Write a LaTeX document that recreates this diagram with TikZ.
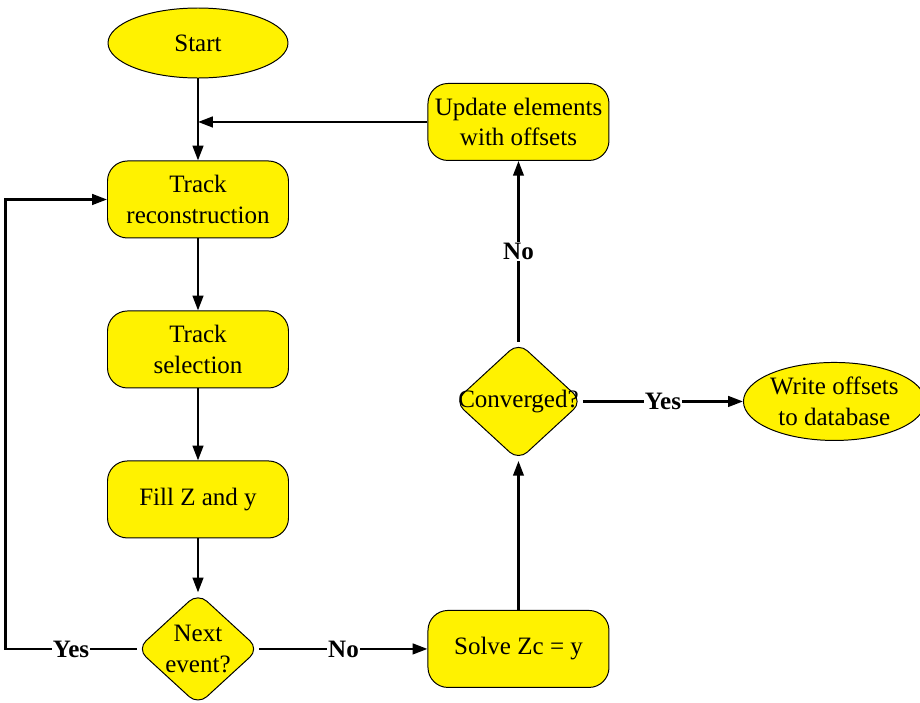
\documentclass[tikz,border=0pt]{standalone}
\usepackage{fontspec}
\setmainfont{Liberation Serif}
\usetikzlibrary{positioning, arrows.meta, shapes.geometric}

\begin{document}
\begin{tikzpicture}[node distance=1.8cm, auto,
  font=\fontsize{17.8}{22}\selectfont,
  box/.style={draw, rectangle, rounded corners=0.5cm, fill=yellow, line width=0.7pt, minimum width=4.525cm, minimum height=1.925cm, align=center, inner sep=0pt},
  terminal/.style={draw, ellipse, fill=yellow, line width=0.7pt, align=center, inner sep=0pt},
  decision/.style={draw, diamond, rounded corners=0.3cm, fill=yellow, line width=0.7pt, inner sep=0pt},
  flow/.style={-{Triangle[length=10.5pt, width=7.5pt]}, line width=1.7pt},
  answer/.style={auto=false, fill=white, font=\fontsize{17.8}{22}\selectfont\bfseries, inner sep=1pt}]
  \useasboundingbox (0,0) rectangle (23,-17.575);

  \node[terminal, minimum width=4.5cm, minimum height=1.75cm] (start) at (4.95,-1.075) {Start};
  \node[box, below=2.05cm of start] (recon) {Track\\reconstruction};
  \node[box, below=of recon] (select) {Track\\selection};
  \node[box, below=of select] (fill) {Fill Z and y};
  \node[decision, below=1.35cm of fill, minimum width=3.05cm, minimum height=2.8cm] (next) {};
  \node[align=center, inner sep=0pt] (nexttext) at (next) {Next\\event?};
  \node[box, right=4.2cm of next] (solve) {Solve Zc = y};
  \node[decision, above=3.725cm of solve, minimum width=3.2cm, minimum height=2.95cm] (conv) {};
  \node[inner sep=0pt] (convtext) at (conv) {Converged?};
  \node[box, above=4.525cm of conv] (update) {Update elements\\with offsets};
  \node[terminal, right=4cm of conv, minimum width=4.475cm, minimum height=1.95cm] (write) {Write offsets\\to database};

  \draw[flow] (start) -- (recon);
  \draw[flow] (update.west) -- (update.west -| start);
  \draw[flow] (recon) -- (select);
  \draw[flow] (select) -- (fill);
  \draw[flow] (fill) -- (next);
  \draw[flow] (next.west) -- node[answer] {Yes} ++(-3.275,0) |- (recon.west);
  \draw[flow] (next.east) -- node[answer] {No} (solve.west);
  \draw[flow] (solve) -- (conv);
  \draw[flow] (conv) -- node[answer] {No} (update);
  \draw[flow] (conv) -- node[answer] {Yes} (write);
\end{tikzpicture}
\end{document}
